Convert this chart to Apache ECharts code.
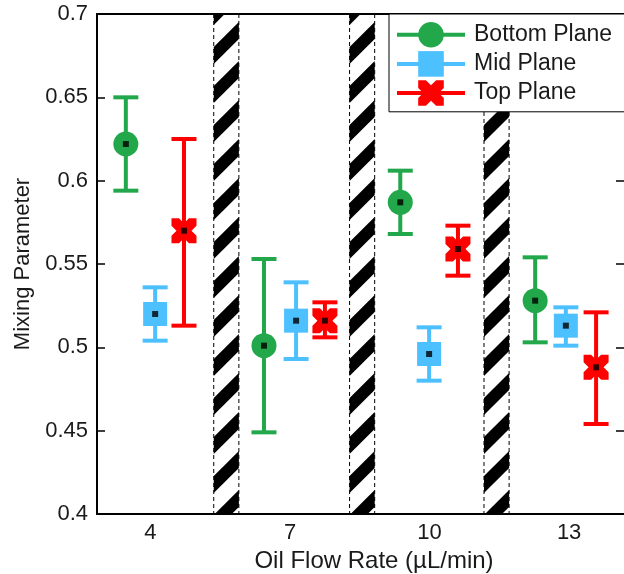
<!DOCTYPE html>
<html>
<head>
<meta charset="utf-8">
<script src="https://cdn.jsdelivr.net/npm/echarts@6.0.0/dist/echarts.min.js"></script>
<style>
  html, body { margin: 0; padding: 0; background: #fff; }
  #main { width: 624px; height: 574px; }
</style>
</head>
<body>
<div id="main"></div>
<script>
// oil flow rates (x tick labels)
const flowRates = [4, 7, 10, 13];

// x positions of each plane's marker inside its group
const bottomX = [3.47, 6.44, 9.37, 12.27];
const midX = [4.10, 7.13, 9.99, 12.93];
const topX = [4.72, 7.75, 10.61, 13.58];

// mixing parameter: mean, lower and upper error bar ends
const bottomMean = [0.622, 0.501, 0.587, 0.528];
const bottomLow = [0.594, 0.449, 0.568, 0.503];
const bottomHigh = [0.650, 0.553, 0.606, 0.554];

const midMean = [0.520, 0.516, 0.496, 0.513];
const midLow = [0.504, 0.493, 0.480, 0.501];
const midHigh = [0.536, 0.539, 0.512, 0.524];

const topMean = [0.570, 0.516, 0.559, 0.488];
const topLow = [0.513, 0.506, 0.543, 0.454];
const topHigh = [0.625, 0.527, 0.573, 0.521];

// hatched separators between the groups
const hatchX = [5.63, 8.55, 11.44];
const hatchWidth = 0.54;

const GREEN = "#22a84a";
const BLUE = "#4dc0ff";
const RED = "#ff0000";
const FONT = "Liberation Sans";

function errorBars(color) {
  return function (params, api) {
    const x = api.value(0);
    const lo = api.coord([x, api.value(1)]);
    const hi = api.coord([x, api.value(2)]);
    const half = 12.5;
    const style = { stroke: color, lineWidth: 4, fill: null };
    return {
      type: "group",
      children: [
        { type: "line", shape: { x1: hi[0], y1: hi[1], x2: lo[0], y2: lo[1] }, style: style },
        { type: "line", shape: { x1: hi[0] - half, y1: hi[1], x2: hi[0] + half, y2: hi[1] }, style: style },
        { type: "line", shape: { x1: lo[0] - half, y1: lo[1], x2: lo[0] + half, y2: lo[1] }, style: style },
      ],
    };
  };
}

function hatch(params, api) {
  const x = api.value(0);
  const a = api.coord([x - hatchWidth / 2, 0.4]);
  const b = api.coord([x + hatchWidth / 2, 0.7]);
  const x0 = a[0], x1 = b[0], yb = a[1], yt = b[1];
  const period = 39, thick = 17, rise = x1 - x0;
  const children = [];
  for (let y = yb - 21 + period; y > yt - period; y -= period) {
    children.push({
      type: "polygon",
      shape: { points: [[x0, y], [x0, y - thick], [x1, y - thick - rise], [x1, y - rise]] },
      style: { fill: "#000" },
    });
  }
  const dash = { stroke: "#000", lineWidth: 1, lineDash: [4, 3], fill: null };
  children.push({ type: "line", shape: { x1: x0, y1: yt, x2: x0, y2: yb }, style: dash });
  children.push({ type: "line", shape: { x1: x1, y1: yt, x2: x1, y2: yb }, style: dash });
  return { type: "group", children: children };
}

function pts(xs, ys) {
  return xs.map((x, i) => [x, ys[i]]);
}
function bars(xs, lo, hi) {
  return xs.map((x, i) => [x, lo[i], hi[i]]);
}

const X_PATH = "path://M0,0L3,0L5,2L7,0L10,0L10,3L8,5L10,7L10,10L7,10L5,8L3,10L0,10L0,7L2,5L0,3Z";

const axisText = { fontFamily: FONT, fontSize: 22, color: "#1a1a1a" };

const myChart = echarts.init(document.getElementById("main"));
myChart.setOption({
  animation: false,
  grid: { left: 97, right: 0, top: 14, bottom: 60, outerBoundsMode: "none" },
  legend: {
    data: ["Bottom Plane", "Mid Plane", "Top Plane"],
    orient: "vertical",
    left: 389,
    top: 14,
    padding: [8, 40, 6, 6],
    itemWidth: 68,
    itemHeight: 32,
    itemGap: 3.5,
    backgroundColor: "#fff",
    borderColor: "#000",
    borderWidth: 1,
    textStyle: { fontFamily: FONT, fontSize: 23, color: "#1a1a1a", padding: [0, 0, 0, 4] },
    lineStyle: { width: 4, opacity: 1 },
  },
  xAxis: [
    {
      type: "value",
      min: 2.85,
      max: 14.18,
      position: "bottom",
      name: "Oil Flow Rate (\u00b5L/min)",
      nameLocation: "middle",
      nameGap: 31,
      nameTextStyle: { fontFamily: FONT, fontSize: 24, color: "#1a1a1a", padding: [0, 0, 0, 27] },
      axisLine: { lineStyle: { color: "#000", width: 2 } },
      axisTick: { show: false },
      axisLabel: Object.assign({ customValues: flowRates, margin: 8 }, axisText),
      splitLine: { show: false },
    },
    {
      type: "value",
      min: 2.85,
      max: 14.18,
      position: "top",
      axisLine: { lineStyle: { color: "#000", width: 2 } },
      axisTick: { show: false },
      axisLabel: { show: false },
      splitLine: { show: false },
    },
  ],
  yAxis: [
    {
      type: "value",
      min: 0.4,
      max: 0.7,
      interval: 0.05,
      position: "left",
      name: "Mixing Parameter",
      nameLocation: "middle",
      nameGap: 62,
      nameTextStyle: { fontFamily: FONT, fontSize: 22, color: "#1a1a1a" },
      axisLine: { show: true, lineStyle: { color: "#000", width: 2 } },
      axisTick: { inside: true, length: 8, lineStyle: { color: "#000", width: 1.5 } },
      axisLabel: Object.assign({ margin: 9 }, axisText),
      splitLine: { show: false },
    },
    {
      type: "value",
      min: 0.4,
      max: 0.7,
      interval: 0.05,
      position: "right",
      axisLine: { show: false },
      axisTick: { inside: true, length: 8, lineStyle: { color: "#000", width: 1.5 } },
      axisLabel: { show: false },
      splitLine: { show: false },
    },
  ],
  series: [
    {
      type: "custom",
      renderItem: hatch,
      clip: true,
      silent: true,
      encode: { x: 0, y: 1 },
      data: hatchX.map((x) => [x, 0.55]),
      z: 1,
    },
    { type: "custom", renderItem: errorBars(GREEN), data: bars(bottomX, bottomLow, bottomHigh), encode: { x: 0, y: [1, 2] }, z: 2 },
    { type: "custom", renderItem: errorBars(BLUE), data: bars(midX, midLow, midHigh), encode: { x: 0, y: [1, 2] }, z: 2 },
    { type: "custom", renderItem: errorBars(RED), data: bars(topX, topLow, topHigh), encode: { x: 0, y: [1, 2] }, z: 2 },
    {
      name: "Bottom Plane",
      type: "line",
      data: pts(bottomX, bottomMean),
      symbol: "circle",
      symbolSize: 25,
      itemStyle: { color: GREEN },
      lineStyle: { color: GREEN, opacity: 0 },
      z: 3,
    },
    {
      name: "Mid Plane",
      type: "line",
      data: pts(midX, midMean),
      symbol: "rect",
      symbolSize: 24,
      itemStyle: { color: BLUE },
      lineStyle: { color: BLUE, opacity: 0 },
      z: 3,
    },
    {
      name: "Top Plane",
      type: "line",
      data: pts(topX, topMean),
      symbol: X_PATH,
      symbolSize: 25,
      itemStyle: { color: RED },
      lineStyle: { color: RED, opacity: 0 },
      z: 3,
    },
    {
      type: "scatter",
      data: pts(bottomX, bottomMean).concat(pts(midX, midMean), pts(topX, topMean)),
      symbol: "rect",
      symbolSize: 6,
      itemStyle: { color: "#000" },
      silent: true,
      z: 4,
    },
  ],
});
</script>
</body>
</html>
